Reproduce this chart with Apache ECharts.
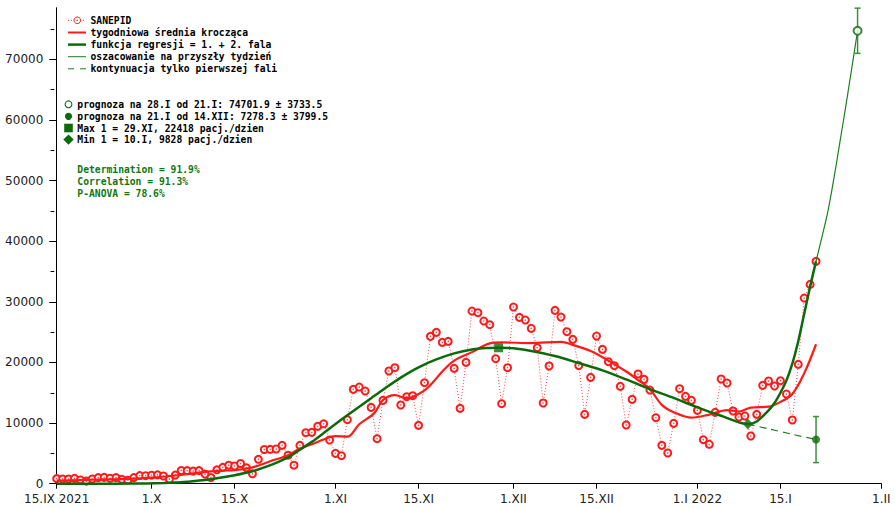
<!DOCTYPE html>
<html>
<head>
<meta charset="utf-8">
<script src="https://cdn.jsdelivr.net/npm/echarts@6/dist/echarts.min.js"></script>
<style>
  html, body { margin: 0; padding: 0; background: #fff; }
  #chart { width: 895px; height: 509px; }
</style>
</head>
<body>
<div id="chart"></div>
<script>
// X axis: days counted from 15.IX 2021
const tickDays = [0, 16, 30, 47, 61, 77, 91, 108, 122, 139];
const tickLabels = ['15.IX 2021', '1.X', '15.X', '1.XI', '15.XI', '1.XII', '15.XII', '1.I 2022', '15.I', '1.II'];
const yTicks = [0, 10000, 20000, 30000, 40000, 50000, 60000, 70000];
const yMinorTicks = [5000, 15000, 25000, 35000, 45000, 55000, 65000, 75000];

// Daily cases (SANEPID), one value per day starting 15.IX
const sanepid = [
  830, 775, 775, 885, 610, 420, 775, 995, 1050, 900,
  995, 720, 580, 1010, 1340, 1320, 1400, 1460, 1270, 740,
  1420, 2180, 2150, 2070, 2150, 1580, 1000, 2290, 2700, 3050,
  2920, 3330, 2620, 1630, 4020, 5640, 5665, 5720, 6330, 4700,
  3050, 6320, 8415, 8470, 9460, 9880, 7205, 5005, 4620, 10560,
  15560, 15945, 15285, 12590, 7425, 13745, 18585, 19135, 12980, 14350,
  14515, 9625, 16660, 24300, 24960, 23310, 23475, 19025, 12430, 20015,
  28480, 28205, 26830, 26225, 20620, 13195, 19135, 29140, 27435, 26995,
  25620, 22430, 13310, 19410, 28590, 27490, 25070, 23805, 19490, 11440,
  17540, 24355, 22160, 20125, 19465, 16055, 9680, 13910, 18090, 17210,
  15450, 10890, 6325, 5060, 9955, 15670, 14405, 13750, 12100, 7260,
  6500, 11770, 17265, 16605, 11990, 11000, 11165, 7865, 11440, 16220,
  16935, 16110, 16990, 14790, 10505, 19685, 30620, 32875, 36670
];

// Weekly moving average
const maDays = [0, 4, 8, 12, 16, 20, 23, 25, 28, 30, 33, 36, 39, 41, 43, 45, 47, 49, 51, 53.5, 55, 57, 59, 60, 62, 63.5, 65, 67, 70, 73, 75, 80, 85, 87, 90, 93, 96, 98, 100, 102, 104, 107, 110, 113, 115, 117, 120, 122, 124, 126, 128];
const maValues = [500, 600, 700, 800, 1000, 1350, 1700, 1950, 2150, 2250, 2700, 3700, 4700, 5800, 6500, 7300, 7850, 7750, 9800, 11600, 13800, 14600, 14100, 14300, 15400, 16800, 18500, 20300, 21700, 23150, 23300, 23200, 23400, 22900, 21900, 20300, 18500, 17100, 15600, 13000, 11800, 10900, 11400, 12150, 11900, 12550, 12700, 13500, 14800, 18200, 23000];

// Regression function (1st + 2nd wave)
const regDays = [0, 10, 15, 18, 20, 22, 25, 27, 30, 33, 35, 37, 39, 41, 43, 45, 47, 49, 51, 53, 55, 58, 61, 64, 67, 70, 72.5, 74.5, 77, 80, 84, 88, 92, 96, 100, 104, 108, 112, 116.5, 118, 120, 121, 122, 123, 124, 125, 126, 127, 128];
const regValues = [0, 10, 40, 100, 180, 330, 600, 900, 1400, 2050, 2700, 3450, 4350, 5600, 6900, 8350, 9850, 11300, 12700, 14100, 15500, 17500, 19200, 20500, 21500, 22150, 22380, 22418, 22350, 21900, 21050, 19900, 18700, 17200, 15600, 14150, 12600, 11200, 9828, 10250, 12100, 13300, 15000, 17000, 19800, 23500, 28000, 32500, 36700];

// Estimate for the coming week
const estDays = [128, 129, 130, 131, 132, 133, 134, 135];
const estValues = [36700, 40700, 44900, 50300, 56200, 62200, 68400, 74701.9];

// Continuation of the first wave only
const firstWaveDays = [116.5, 120, 124, 128];
const firstWaveValues = [9828, 9050, 8150, 7278.3];

// Extremes of the first wave
const maxPoint = [74.5, 22418];
const minPoint = [116.5, 9828];

// Forecasts with their errors
const predDays = [135, 128];
const predValues = [74701.9, 7278.3];
const predErrors = [3733.5, 3799.5];

const RED = '#ff1a1a';
const DKGREEN = '#0b6b0b';
const GREEN = '#1f7f1f';
const MONO = '"DejaVu Sans Mono", monospace';

const pair = (xs, ys) => xs.map((x, i) => [x, ys[i]]);
const daily = sanepid.map((v, i) => [i, v]);

const chart = echarts.init(document.getElementById('chart'), null, { renderer: 'svg' });

// Legend drawn as graphic elements
const legendRows = [
  { y: 20.3, text: 'SANEPID' },
  { y: 32.5, text: 'tygodniowa średnia krocząca' },
  { y: 44.6, text: 'funkcja regresji = 1. + 2. fala' },
  { y: 56.7, text: 'oszacowanie na przyszły tydzień' },
  { y: 68.8, text: 'kontynuacja tylko pierwszej fali' }
];
const infoRows = [
  { y: 104.3, text: 'prognoza na 28.I od 21.I: 74701.9 ± 3733.5' },
  { y: 116.3, text: 'prognoza na 21.I od 14.XII: 7278.3 ± 3799.5' },
  { y: 128.0, text: 'Max 1 = 29.XI, 22418 pacj./dzien' },
  { y: 139.6, text: 'Min 1 = 10.I, 9828 pacj./dzien' }
];
const statRows = [
  { y: 169.3, text: 'Determination = 91.9%' },
  { y: 181.6, text: 'Correlation = 91.3%' },
  { y: 193.8, text: 'P-ANOVA = 78.6%' }
];
const textEl = (x, y, text, fill) => ({
  type: 'text', x: x, y: y, silent: true,
  style: { text: text, font: 'bold 9.7px ' + MONO, fill: fill, textAlign: 'left', align: 'left', textVerticalAlign: 'middle', verticalAlign: 'middle' }
});
const lineEl = (y, stroke, w, dash) => ({
  type: 'line', silent: true,
  shape: { x1: 68, y1: y, x2: 86, y2: y },
  style: { stroke: stroke, lineWidth: w, lineDash: dash || null }
});
const graphics = [];
legendRows.forEach(r => graphics.push(textEl(90.5, r.y, r.text, '#000')));
graphics.push(lineEl(legendRows[0].y, 'rgba(255,0,0,0.8)', 1, [1, 2]));
graphics.push({ type: 'circle', silent: true, shape: { cx: 77.3, cy: legendRows[0].y, r: 3.3 }, style: { fill: '#fff', stroke: RED, lineWidth: 1 } });
graphics.push({ type: 'circle', silent: true, shape: { cx: 77.3, cy: legendRows[0].y, r: 0.7 }, style: { fill: RED } });
graphics.push(lineEl(legendRows[1].y, RED, 2));
graphics.push(lineEl(legendRows[2].y, DKGREEN, 2.5));
graphics.push(lineEl(legendRows[3].y, GREEN, 1));
graphics.push(lineEl(legendRows[4].y, GREEN, 1, [6, 6]));
infoRows.forEach(r => graphics.push(textEl(77.3, r.y, r.text, '#000')));
graphics.push({ type: 'circle', silent: true, shape: { cx: 68.5, cy: infoRows[0].y, r: 3.4 }, style: { fill: '#fff', stroke: DKGREEN, lineWidth: 1.1 } });
graphics.push({ type: 'circle', silent: true, shape: { cx: 68.5, cy: infoRows[1].y, r: 3.6 }, style: { fill: DKGREEN } });
graphics.push({ type: 'rect', silent: true, shape: { x: 64.2, y: infoRows[2].y - 4.3, width: 8.6, height: 8.6 }, style: { fill: DKGREEN } });
graphics.push({ type: 'polygon', silent: true, shape: { points: [[68.5, infoRows[3].y - 5.2], [73.7, infoRows[3].y], [68.5, infoRows[3].y + 5.2], [63.3, infoRows[3].y]] }, style: { fill: DKGREEN } });
statRows.forEach(r => graphics.push(textEl(77.3, r.y, r.text, '#117711')));

const option = {
  animation: false,
  backgroundColor: '#fff',
  grid: { left: 54.3, right: 13.7, top: 7.75, bottom: 25.3, containLabel: false },
  xAxis: {
    type: 'value', min: -0.4, max: 139,
    axisLine: { lineStyle: { color: '#000', width: 1 } },
    axisTick: { customValues: tickDays, length: 5, inside: false, lineStyle: { color: '#000' } },
    axisLabel: {
      customValues: tickDays, margin: 9, color: '#222', fontFamily: 'DejaVu Sans', fontSize: 12,
      formatter: v => tickLabels[tickDays.indexOf(v)] || ''
    },
    splitLine: { show: false }
  },
  yAxis: [
    {
      type: 'value', min: 0, max: 78500, position: 'left',
      axisLine: { show: true, lineStyle: { color: '#000', width: 1 } },
      axisTick: { show: true, customValues: yTicks, length: 7.5, inside: false, lineStyle: { color: '#000' } },
      axisLabel: { customValues: yTicks, margin: 11, color: '#222', fontFamily: 'DejaVu Sans', fontSize: 12, formatter: v => String(v) },
      splitLine: { show: false }
    },
    {
      type: 'value', min: 0, max: 78500, position: 'left', offset: 0,
      axisLine: { show: false },
      axisTick: { show: true, customValues: yMinorTicks, length: 3.7, inside: false, lineStyle: { color: '#000' } },
      axisLabel: { show: false },
      splitLine: { show: false }
    }
  ],
  graphic: { elements: graphics },
  series: [
    {
      name: 'SANEPID', type: 'line', data: daily, z: 2,
      symbol: 'emptyCircle', symbolSize: 7, showAllSymbol: true,
      lineStyle: { color: 'rgba(255,0,0,0.75)', width: 1, type: [1, 2] },
      itemStyle: { color: RED, borderColor: RED, borderWidth: 1 }
    },
    {
      type: 'scatter', data: daily, z: 3, silent: true,
      symbol: 'circle', symbolSize: 1.5, itemStyle: { color: RED }
    },
    {
      name: 'tygodniowa średnia krocząca', type: 'line', data: pair(maDays, maValues), z: 4,
      smooth: 0.35, showSymbol: false,
      lineStyle: { color: RED, width: 2.2 }
    },
    {
      name: 'funkcja regresji = 1. + 2. fala', type: 'line', data: pair(regDays, regValues), z: 5,
      smooth: 0.3, showSymbol: false,
      lineStyle: { color: DKGREEN, width: 2.5 }
    },
    {
      name: 'oszacowanie na przyszły tydzień', type: 'line', data: pair(estDays, estValues), z: 5,
      smooth: 0.3, showSymbol: false,
      lineStyle: { color: GREEN, width: 1.2 }
    },
    {
      name: 'kontynuacja tylko pierwszej fali', type: 'line', data: pair(firstWaveDays, firstWaveValues), z: 5,
      smooth: 0.3, showSymbol: false,
      lineStyle: { color: GREEN, width: 1.2, type: [7, 5] }
    },
    {
      type: 'custom', z: 6, clip: false, silent: true,
      data: predDays.map((d, i) => [d, predValues[i], predErrors[i]]),
      renderItem: (params, api) => {
        const x = api.value(0), v = api.value(1), e = api.value(2);
        const top = api.coord([x, v + e]);
        const bot = api.coord([x, v - e]);
        const cap = 3;
        const st = { stroke: '#3d8f3d', lineWidth: 1.5 };
        return {
          type: 'group',
          children: [
            { type: 'line', shape: { x1: top[0], y1: top[1], x2: bot[0], y2: bot[1] }, style: st },
            { type: 'line', shape: { x1: top[0] - cap, y1: top[1], x2: top[0] + cap, y2: top[1] }, style: st },
            { type: 'line', shape: { x1: bot[0] - cap, y1: bot[1], x2: bot[0] + cap, y2: bot[1] }, style: st }
          ]
        };
      }
    },
    {
      type: 'scatter', z: 7, silent: true,
      data: [[predDays[0], predValues[0]]],
      symbol: 'emptyCircle', symbolSize: 8,
      itemStyle: { color: DKGREEN, borderColor: DKGREEN, borderWidth: 1.2 }
    },
    {
      type: 'scatter', z: 7, silent: true,
      data: [[predDays[1], predValues[1]]],
      symbol: 'circle', symbolSize: 8, itemStyle: { color: DKGREEN }
    },
    {
      type: 'scatter', z: 7, silent: true,
      data: [maxPoint], symbol: 'rect', symbolSize: 9, itemStyle: { color: DKGREEN }
    },
    {
      type: 'scatter', z: 7, silent: true,
      data: [minPoint], symbol: 'diamond', symbolSize: [10, 11], itemStyle: { color: DKGREEN }
    }
  ]
};
chart.setOption(option);
</script>
</body>
</html>
